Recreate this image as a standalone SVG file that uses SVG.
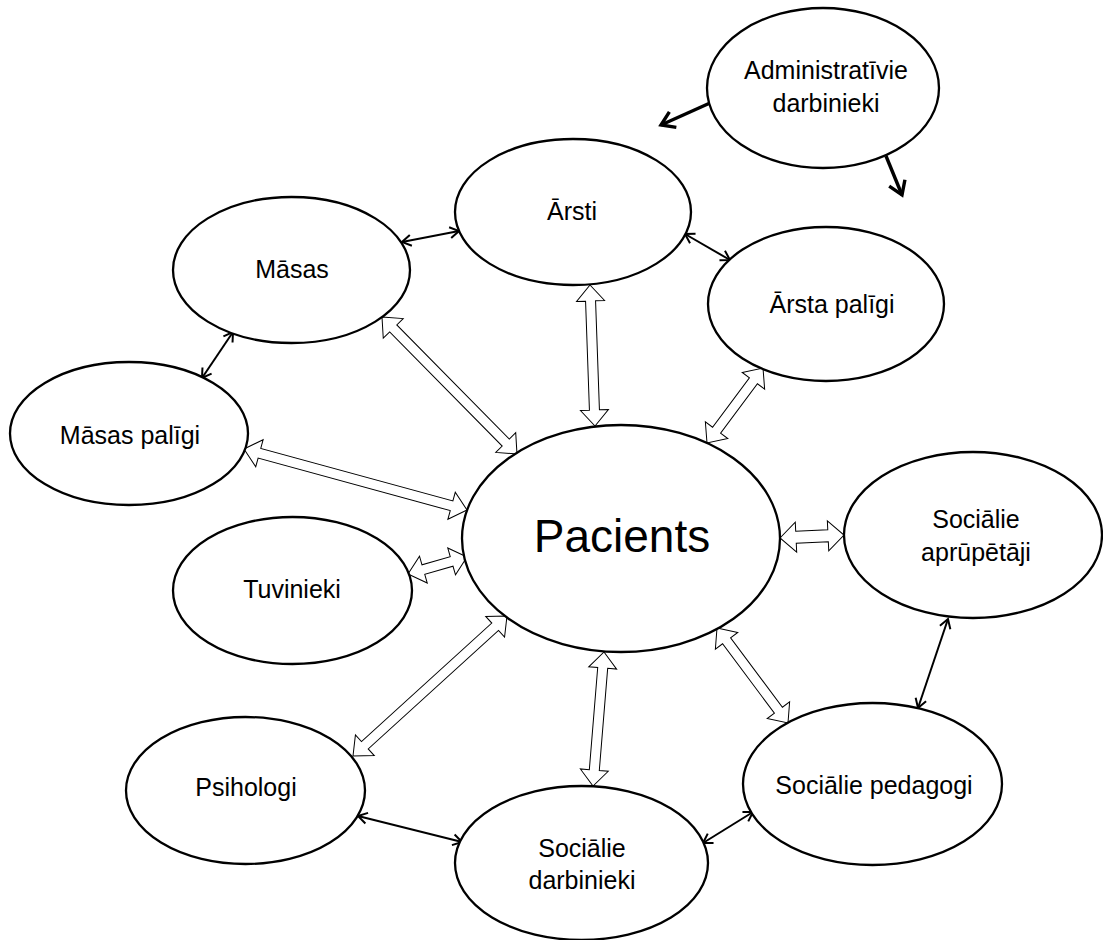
<svg xmlns="http://www.w3.org/2000/svg" width="1103" height="940" viewBox="0 0 1103 940">
<style>
.node ellipse{fill:#fff;stroke:#000;stroke-width:2.3}
.node text{font-family:"Liberation Sans",Arial,sans-serif;font-size:25px;fill:#000;text-anchor:middle}
.node text.big{font-size:46px}
.thin{fill:none;stroke:#000;stroke-width:2;marker-start:url(#v);marker-end:url(#v)}
.bold{fill:none;stroke:#000;stroke-width:3.4;marker-end:url(#vb)}
.block{fill:#fff;stroke:#000;stroke-width:1}
</style>
<defs>
<marker id="v" markerUnits="userSpaceOnUse" markerWidth="24" markerHeight="24" viewBox="-12 -12 24 24" refX="0" refY="0" orient="auto-start-reverse" overflow="visible">
<path d="M-9,-5.5 L0,0 L-9,5.5" fill="none" stroke="#000" stroke-width="2"/>
</marker>
<marker id="vb" markerUnits="userSpaceOnUse" markerWidth="30" markerHeight="30" viewBox="-15 -15 30 30" refX="0" refY="0" orient="auto" overflow="visible">
<path d="M-13,-8.5 L0,0 L-13,8.5" fill="none" stroke="#000" stroke-width="3.4" stroke-linejoin="miter"/>
</marker>
</defs>
<rect width="1103" height="940" fill="#fff"/>
<g id="connectors">
<line class="thin" x1="402" y1="242" x2="459" y2="231"/>
<line class="thin" x1="685" y1="234" x2="730" y2="260"/>
<line class="thin" x1="233" y1="332" x2="202" y2="378"/>
<line class="thin" x1="358" y1="816" x2="462" y2="842"/>
<line class="thin" x1="703" y1="843" x2="753" y2="812"/>
<line class="thin" x1="948" y1="619" x2="918" y2="708"/>
<line class="bold" x1="710" y1="103" x2="661" y2="125"/>
<line class="bold" x1="886" y1="156" x2="902" y2="195"/>
<path class="block" transform="translate(590,285) rotate(87.97)" d="M0,0 L16,-14 L16,-5 L125.1,-5 L125.1,-14 L141.1,0 L125.1,14 L125.1,5 L16,5 L16,14 Z"/>
<path class="block" transform="translate(382,317) rotate(45.42)" d="M0,0 L16,-14 L16,-5 L176.3,-5 L176.3,-14 L192.3,0 L176.3,14 L176.3,5 L16,5 L16,14 Z"/>
<path class="block" transform="translate(763,368) rotate(126.75)" d="M0,0 L16,-14 L16,-5 L77.6,-5 L77.6,-14 L93.6,0 L77.6,14 L77.6,5 L16,5 L16,14 Z"/>
<path class="block" transform="translate(244,449) rotate(15.30)" d="M0,0 L16,-14 L16,-5 L215.2,-5 L215.2,-14 L231.2,0 L215.2,14 L215.2,5 L16,5 L16,14 Z"/>
<path class="block" transform="translate(408,574) rotate(-16.07)" d="M0,0 L16,-14 L16,-5 L45.4,-5 L45.4,-14 L61.4,0 L45.4,14 L45.4,5 L16,5 L16,14 Z"/>
<path class="block" transform="translate(353,756) rotate(-42.27)" d="M0,0 L16,-14 L16,-5 L192.1,-5 L192.1,-14 L208.1,0 L192.1,14 L192.1,5 L16,5 L16,14 Z"/>
<path class="block" transform="translate(604,652) rotate(94.69)" d="M0,0 L16,-14 L16,-5 L118.5,-5 L118.5,-14 L134.5,0 L118.5,14 L118.5,5 L16,5 L16,14 Z"/>
<path class="block" transform="translate(717,628) rotate(53.23)" d="M0,0 L16,-14 L16,-5 L102.6,-5 L102.6,-14 L118.6,0 L102.6,14 L102.6,5 L16,5 L16,14 Z"/>
<path class="block" transform="translate(780,538) rotate(-2.68)" d="M0,0 L16,-15 L16,-6 L48.1,-6 L48.1,-15 L64.1,0 L48.1,15 L48.1,6 L16,6 L16,15 Z"/>
</g>
<g id="admin" class="node"><ellipse cx="823" cy="88" rx="116" ry="80"/><text x="826" y="79">Administratīvie</text><text x="826" y="112">darbinieki</text></g>
<g id="arsti" class="node"><ellipse cx="573" cy="212" rx="118" ry="73"/><text x="572" y="220">Ārsti</text></g>
<g id="masas" class="node"><ellipse cx="291.5" cy="270" rx="118.5" ry="73"/><text x="292" y="278">Māsas</text></g>
<g id="arsta-paligi" class="node"><ellipse cx="826" cy="304" rx="118" ry="77"/><text x="832" y="313">Ārsta palīgi</text></g>
<g id="masas-paligi" class="node"><ellipse cx="129" cy="433.5" rx="119" ry="71.5"/><text x="130" y="444">Māsas palīgi</text></g>
<g id="pacients" class="node"><ellipse cx="621" cy="538.5" rx="159" ry="113.5"/><text class="big" x="622" y="552">Pacients</text></g>
<g id="tuvinieki" class="node"><ellipse cx="292.5" cy="590.5" rx="119.5" ry="73.5"/><text x="292" y="598">Tuvinieki</text></g>
<g id="soc-aprupetaji" class="node"><ellipse cx="973" cy="535" rx="129" ry="83"/><text x="976" y="528">Sociālie</text><text x="976" y="561">aprūpētāji</text></g>
<g id="psihologi" class="node"><ellipse cx="245.5" cy="790.5" rx="119.5" ry="73.5"/><text x="246" y="796">Psihologi</text></g>
<g id="soc-pedagogi" class="node"><ellipse cx="872.5" cy="784" rx="129.5" ry="81"/><text x="874" y="794">Sociālie pedagogi</text></g>
<g id="soc-darbinieki" class="node"><ellipse cx="581.5" cy="863" rx="126.5" ry="77"/><text x="582" y="857">Sociālie</text><text x="582" y="889">darbinieki</text></g>
</svg>
